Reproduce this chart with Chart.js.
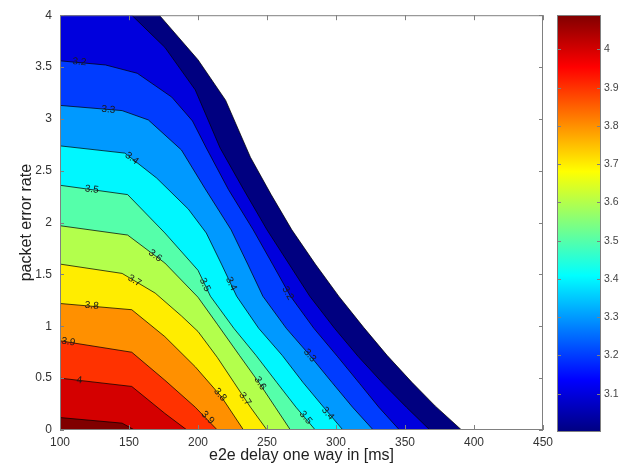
<!DOCTYPE html>
<html>
<head>
<meta charset="utf-8">
<script src="https://cdn.jsdelivr.net/npm/chart.js@4.4.1/dist/chart.umd.min.js"></script>
<style>
  html, body { margin: 0; padding: 0; background: #fff; }
  #wrap { position: relative; width: 632px; height: 471px; }
  #wrap canvas { position: absolute; left: 0; top: 0; }
</style>
</head>
<body>
<div id="wrap">
  <canvas id="main" width="632" height="471"></canvas>
  <canvas id="cbar" width="632" height="471"></canvas>
</div>
<script>
// axis ticks
const xTicks = [100, 150, 200, 250, 300, 350, 400, 450];
const yTicks = [0, 0.5, 1, 1.5, 2, 2.5, 3, 3.5, 4];
const cbTicks = [3.1, 3.2, 3.3, 3.4, 3.5, 3.6, 3.7, 3.8, 3.9, 4.0];
const cbMin = 3.0, cbMax = 4.09;

// contour levels and the [delay, per] points of each contour line
const levels = [3.0, 3.1, 3.2, 3.3, 3.4, 3.5, 3.6, 3.7, 3.8, 3.9, 4.0, 4.1];
const c30 = [[172,4],[200,3.57],[220,3.18],[238,2.63],[253,2.27],[268,1.93],[285,1.60],[302,1.29],[320,0.99],[337,0.72],[355,0.46],[372,0.23],[391,0]];
const c31 = [[152,4],[176,3.69],[198,3.28],[216,2.72],[233,2.32],[250,1.93],[266,1.60],[281,1.29],[299,0.98],[316,0.71],[334,0.45],[351,0.22],[368,0]];
const c32 = [[100,3.56],[133,3.52],[156,3.44],[181,3.21],[196,2.98],[206,2.72],[222,2.32],[240,1.93],[254,1.60],[267,1.29],[284,0.98],[301,0.71],[317,0.45],[331,0.22],[346,0]];
const c33 = [[100,3.13],[145,3.08],[164,2.99],[188,2.70],[205,2.33],[224,1.93],[236,1.60],[247,1.29],[264,0.98],[281,0.72],[297,0.46],[312,0.22],[327,0]];
const c34 = [[100,2.74],[147,2.67],[170,2.43],[193,2.13],[206,1.90],[217,1.60],[228,1.29],[244,0.98],[261,0.72],[276,0.46],[291,0.22],[305,0]];
const c35 = [[100,2.36],[149,2.27],[176,1.90],[200,1.54],[209,1.29],[226,0.98],[242,0.72],[257,0.46],[271,0.22],[285,0]];
const c36 = [[100,1.97],[149,1.88],[176,1.61],[200,1.28],[214,1.02],[230,0.72],[244,0.46],[256,0.22],[267,0]];
const c37 = [[100,1.60],[145,1.51],[169,1.32],[188,1.10],[200,0.95],[214,0.70],[226,0.46],[238,0.22],[250,0]];
const c38 = [[100,1.22],[152,1.16],[176,0.90],[198,0.61],[217,0.32],[233,0]];
const c39 = [[100,0.86],[152,0.75],[176,0.48],[198,0.22],[214,0]];
const c40 = [[100,0.50],[152,0.42],[176,0.16],[192,0]];
const c41 = [[100,0.12],[145,0.066],[154,0]];
const contours = [c30, c31, c32, c33, c34, c35, c36, c37, c38, c39, c40, c41];

// inline contour labels
const labelLevels = [3.2, 3.3, 3.4, 3.5, 3.6, 3.7, 3.8, 3.9, 4.0, 3.8, 3.9, 3.7, 3.6, 3.5, 3.4, 3.3, 3.2, 3.5, 3.4];
const labelX = [114, 135, 152, 123, 169, 154, 123, 106, 114, 216, 207, 234, 245, 278, 294, 281, 265, 205, 224];
const labelY = [3.55, 3.09, 2.62, 2.32, 1.68, 1.44, 1.20, 0.85, 0.48, 0.34, 0.12, 0.30, 0.45, 0.12, 0.16, 0.72, 1.32, 1.40, 1.41];

const FONT = '"Liberation Sans", Arial, sans-serif';

// jet colormap
const clamp01 = v => Math.max(0, Math.min(1, v));
function jet(t) {
    t = clamp01(t);
    const r = clamp01(1.5 - Math.abs(4 * t - 3));
    const g = clamp01(1.5 - Math.abs(4 * t - 2));
    const b = clamp01(1.5 - Math.abs(4 * t - 1));
    return `rgb(${Math.round(r * 255)},${Math.round(g * 255)},${Math.round(b * 255)})`;
}
const levelColor = lv => jet((lv - cbMin) / (cbMax - cbMin));
const fmtLevel = v => String(Math.round(v * 10) / 10);

// filled regions (value >= level), closed through the lower-left corner
const datasets = [];
contours.forEach((pts, i) => {
    const poly = pts.map(p => ({x: p[0], y: p[1]}));
    poly.push({x: xTicks[0], y: yTicks[0]});
    if (pts[0][1] === yTicks[yTicks.length - 1]) poly.push({x: xTicks[0], y: yTicks[yTicks.length - 1]});
    datasets.push({
        data: poly,
        fill: 'shape',
        backgroundColor: levelColor(levels[i]),
        borderWidth: 0,
        pointRadius: 0,
        tension: 0,
        order: 100 - i
    });
});
// contour lines on top
contours.forEach(pts => {
    datasets.push({
        data: pts.map(p => ({x: p[0], y: p[1]})),
        fill: false,
        borderColor: 'rgba(0,0,0,0.8)',
        borderWidth: 0.9,
        pointRadius: 0,
        tension: 0,
        order: 0
    });
});

function segDist(px, py, ax, ay, bx, by) {
    const dx = bx - ax, dy = by - ay;
    const len = dx * dx + dy * dy || 1;
    let t = ((px - ax) * dx + (py - ay) * dy) / len;
    t = Math.max(0, Math.min(1, t));
    return Math.hypot(px - (ax + t * dx), py - (ay + t * dy));
}

const contourLabels = {
    id: 'contourLabels',
    afterDatasetsDraw(chart) {
        const {ctx, scales: {x, y}} = chart;
        ctx.save();
        ctx.font = '10px ' + FONT;
        ctx.fillStyle = '#1a1a1a';
        ctx.textAlign = 'center';
        ctx.textBaseline = 'middle';
        labelLevels.forEach((lv, i) => {
            const px = x.getPixelForValue(labelX[i]);
            const py = y.getPixelForValue(labelY[i]);
            const pts = contours[levels.indexOf(lv)];
            let best = Infinity, ang = 0;
            for (let k = 0; k < pts.length - 1; k++) {
                const ax = x.getPixelForValue(pts[k][0]), ay = y.getPixelForValue(pts[k][1]);
                const bx = x.getPixelForValue(pts[k + 1][0]), by = y.getPixelForValue(pts[k + 1][1]);
                const d = segDist(px, py, ax, ay, bx, by);
                if (d < best) { best = d; ang = Math.atan2(by - ay, bx - ax); }
            }
            ctx.save();
            ctx.translate(px, py);
            ctx.rotate(ang);
            ctx.fillText(fmtLevel(lv), 0, 0);
            ctx.restore();
        });
        ctx.restore();
    }
};

// box + inward ticks, matlab style
const frameBox = {
    id: 'frameBox',
    afterDraw(chart) {
        const {ctx, chartArea: a, scales} = chart;
        ctx.save();
        ctx.strokeStyle = '#808080';
        ctx.lineWidth = 1;
        ctx.strokeRect(a.left + 0.5, a.top + 0.5, a.right - a.left - 1, a.bottom - a.top - 1);
        ctx.beginPath();
        const xs = scales.x, ys = scales.y;
        if (xs && xs.options.display !== false) {
            xs.ticks.forEach(t => {
                const p = Math.round(xs.getPixelForValue(t.value)) + 0.5;
                ctx.moveTo(p, a.bottom); ctx.lineTo(p, a.bottom - 5);
                ctx.moveTo(p, a.top); ctx.lineTo(p, a.top + 5);
            });
        }
        ys.ticks.forEach(t => {
            const p = Math.round(ys.getPixelForValue(t.value)) + 0.5;
            ctx.moveTo(a.left, p); ctx.lineTo(a.left + 4, p);
            ctx.moveTo(a.right, p); ctx.lineTo(a.right - 4, p);
        });
        ctx.stroke();
        ctx.restore();
    }
};

new Chart(document.getElementById('main'), {
    type: 'line',
    data: { datasets },
    options: {
        responsive: false,
        animation: false,
        devicePixelRatio: 1,
        layout: { padding: { left: 0, top: 15, right: 89, bottom: 0 } },
        plugins: { legend: { display: false }, tooltip: { enabled: false } },
        scales: {
            x: {
                type: 'linear', min: xTicks[0], max: xTicks[xTicks.length - 1],
                afterBuildTicks: s => { s.ticks = xTicks.map(v => ({value: v})); },
                afterFit: s => { s.height = 41; },
                ticks: { color: '#333', font: { size: 12, family: FONT }, padding: 5, maxRotation: 0,
                         callback: v => String(v) },
                grid: { display: false, drawTicks: false },
                border: { display: false },
                title: { display: true, text: 'e2e delay one way in [ms]', color: '#222',
                         font: { size: 16, family: FONT }, padding: { top: 0, bottom: 6 } }
            },
            y: {
                type: 'linear', min: yTicks[0], max: yTicks[yTicks.length - 1],
                afterBuildTicks: s => { s.ticks = yTicks.map(v => ({value: v})); },
                afterFit: s => { s.width = 60; },
                ticks: { color: '#333', font: { size: 12, family: FONT }, padding: 8,
                         callback: v => String(v) },
                grid: { display: false, drawTicks: false },
                border: { display: false },
                title: { display: true, text: 'packet error rate', color: '#222',
                         font: { size: 16, family: FONT }, padding: { top: 17, bottom: 0 } }
            }
        }
    },
    plugins: [contourLabels, frameBox]
});

// colorbar
const jetStops = [0, 0.125, 0.375, 0.625, 0.875, 1];
new Chart(document.getElementById('cbar'), {
    type: 'bar',
    data: {
        labels: ['cb'],
        datasets: [{
            data: [[cbMin, cbMax]],
            barPercentage: 1,
            categoryPercentage: 1,
            borderWidth: 0,
            backgroundColor: c => {
                const ch = c.chart, ys = ch.scales.y;
                if (!ch.chartArea || !ys) return '#000080';
                const g = ch.ctx.createLinearGradient(0, ys.getPixelForValue(cbMin), 0, ys.getPixelForValue(cbMax));
                jetStops.forEach(s => g.addColorStop(s, jet(s)));
                return g;
            }
        }]
    },
    options: {
        responsive: false,
        animation: false,
        devicePixelRatio: 1,
        layout: { padding: { left: 557, top: 15, right: 0, bottom: 39 } },
        plugins: { legend: { display: false }, tooltip: { enabled: false } },
        scales: {
            x: { display: false },
            y: {
                position: 'right', min: cbMin, max: cbMax,
                afterBuildTicks: s => { s.ticks = cbTicks.map(v => ({value: v})); },
                afterFit: s => { s.width = 31; },
                ticks: { color: '#444', font: { size: 10.5, family: FONT }, padding: 3, callback: v => fmtLevel(v) },
                grid: { display: false, drawTicks: false },
                border: { display: false }
            }
        }
    },
    plugins: [frameBox]
});
</script>
</body>
</html>
